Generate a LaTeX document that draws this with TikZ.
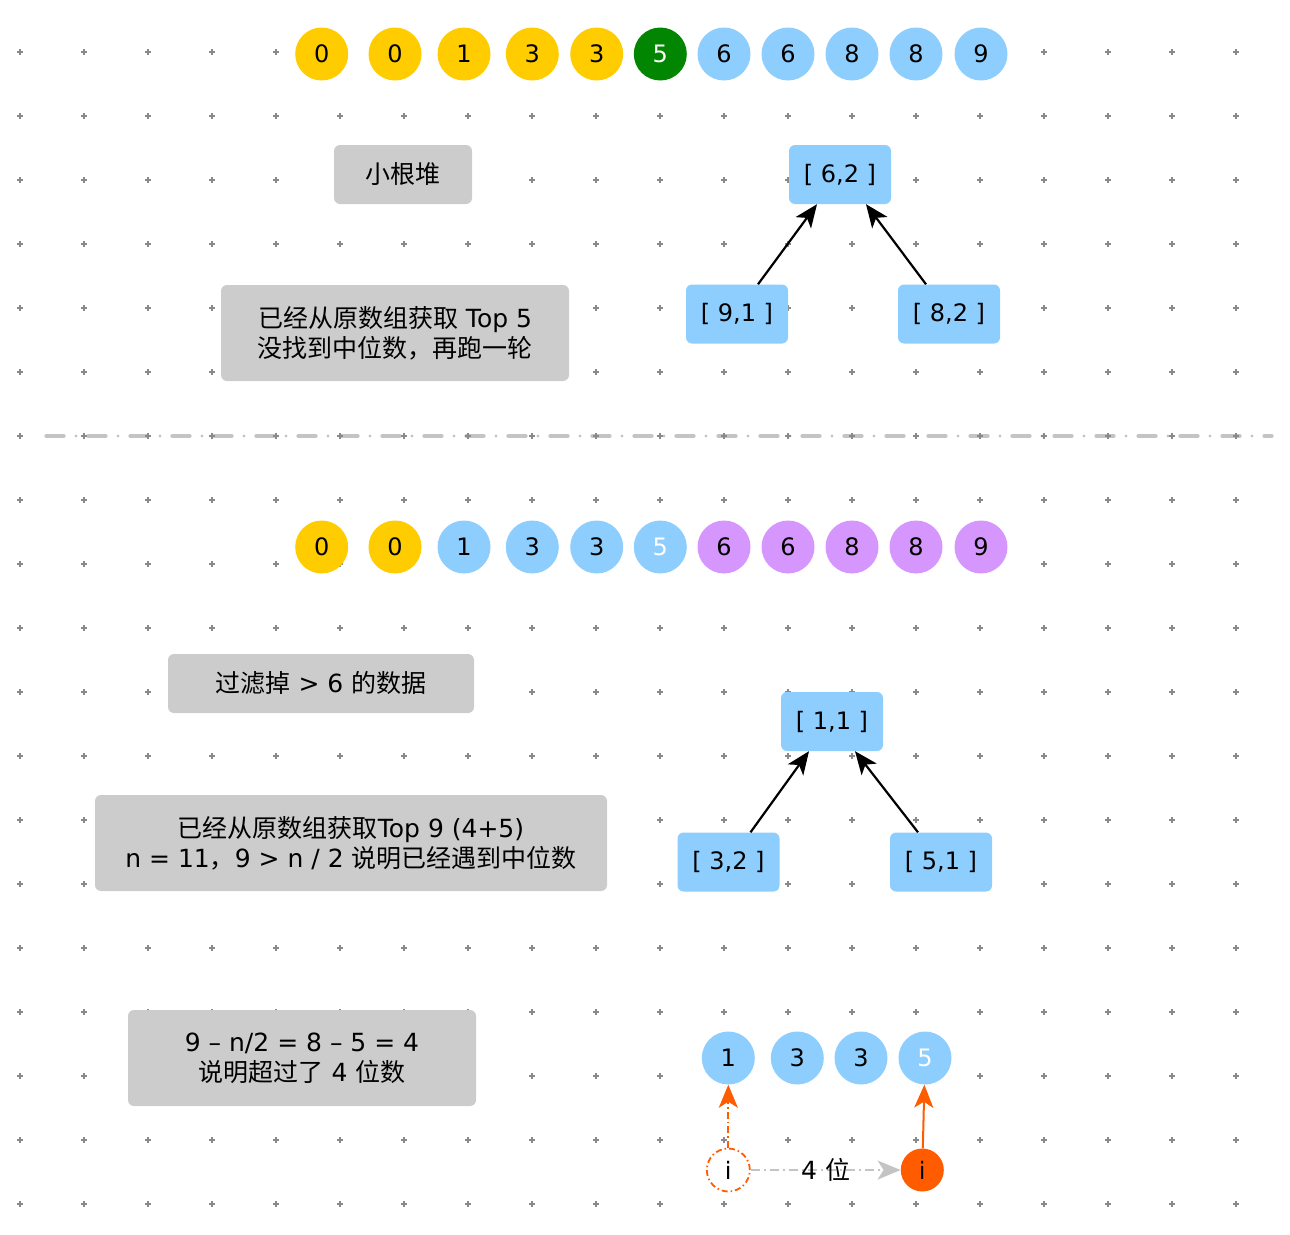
\documentclass[tikz,border=0pt]{standalone}
\usepackage{fontspec}
\setmainfont{DejaVu Sans}
\newfontfamily\cjk{Noto Sans CJK SC}
\usetikzlibrary{arrows.meta}
\newcommand{\zh}[1]{{\cjk #1}}
\definecolor{gold}{HTML}{FFCC00}
\definecolor{leaf}{HTML}{028602}
\definecolor{sky}{HTML}{8ECEFE}
\definecolor{lilac}{HTML}{D597FE}
\definecolor{boxgray}{HTML}{CCCCCC}
\definecolor{fire}{HTML}{FF5C00}
\definecolor{dotgray}{HTML}{8A8A8A}
\definecolor{linegray}{HTML}{C4C4C4}
\tikzstyle{Arrow} = [
%heap arrows
line width=2.2pt,
-{Stealth[length=23pt, width=19pt, inset=6pt]}
]

\begin{document}
\begin{tikzpicture}[x=1pt, y=-1pt,
			num/.style = {circle, inner sep=0pt, minimum size=53pt, font=\fontsize{24pt}{28pt}\selectfont},
			heap/.style = {rectangle, rounded corners=6pt, fill=sky, minimum width=102pt, minimum height=59pt, font=\fontsize{24pt}{28pt}\selectfont},
			note/.style = {rectangle, rounded corners=6pt, fill=boxgray, align=center, font=\fontsize{25pt}{30pt}\selectfont},
			ptr/.style = {circle, inner sep=0pt, minimum size=43pt, font=\fontsize{24pt}{28pt}\selectfont},
		]
		\useasboundingbox (0,0) rectangle (1290,1234);

		% separator and dot grid
		\draw[linegray, line width=3.2pt, line cap=round, dash pattern=on 18pt off 12pt on 0pt off 12pt] (46,436) -- (1272,436);
		\foreach \gx in {20,84,...,1236}
			\foreach \gy in {52,116,...,1204}
				\draw[dotgray, line width=1.4pt] (\gx-2.9,\gy) -- (\gx+2.9,\gy) (\gx,\gy-2.9) -- (\gx,\gy+2.9);

		% first round
		\foreach \v/\c/\t/\x [count=\k] in {0/gold/black/321.7, 0/gold/black/395, 1/gold/black/464, 3/gold/black/532.3, 3/gold/black/596.7, 5/leaf/white/660.3, 6/sky/black/724, 6/sky/black/788, 8/sky/black/852, 8/sky/black/916, 9/sky/black/981}
			\node[num, fill=\c, text=\t] (a\k) at (\x,54) {\v};

		\node[note, minimum width=138pt, minimum height=59pt] (small) at (403,174.5) {\zh{小根堆}};
		\node[note, minimum width=348pt, minimum height=96pt] (top5) at (395,333) {\zh{已经从原数组获取} Top 5\\\zh{没找到中位数，再跑一轮}};

		\node[heap] (h62) at (840,174.5) {[ 6,2 ]};
		\node[heap] (h91) at (737,314) {[ 9,1 ]};
		\node[heap] (h82) at (949,314) {[ 8,2 ]};
		\draw[Arrow]([xshift=21pt]h91.north)--([xshift=-23pt]h62.south);
		\draw[Arrow]([xshift=-23pt]h82.north)--([xshift=26pt]h62.south);

		% second round
		\foreach \v/\c/\t/\x [count=\k] in {0/gold/black/321.7, 0/gold/black/395, 1/sky/black/464, 3/sky/black/532.3, 3/sky/black/596.7, 5/sky/white/660.3, 6/lilac/black/724, 6/lilac/black/788, 8/lilac/black/852, 8/lilac/black/916, 9/lilac/black/981}
			\node[num, fill=\c, text=\t] (b\k) at (\x,547) {\v};

		\node[note, minimum width=306pt, minimum height=59pt] (filter) at (321,683.5) {\zh{过滤掉} > 6 \zh{的数据}};
		\node[note, minimum width=512pt, minimum height=96pt] (top9) at (351,843) {\zh{已经从原数组获取}Top 9 (4+5)\\n = 11\zh{，}9 > n / 2 \zh{说明已经遇到中位数}};
		\node[note, minimum width=348pt, minimum height=96pt] (over) at (302,1058) {9 – n/2 = 8 – 5 = 4\\\zh{说明超过了} 4 \zh{位数}};

		\node[heap] (h11) at (832,721.5) {[ 1,1 ]};
		\node[heap] (h32) at (728.5,862) {[ 3,2 ]};
		\node[heap] (h51) at (941,862) {[ 5,1 ]};
		\draw[Arrow]([xshift=22pt]h32.north)--([xshift=-23pt]h11.south);
		\draw[Arrow]([xshift=-23pt]h51.north)--([xshift=23pt]h11.south);

		% pointer move
		\foreach \v/\t/\x [count=\k] in {1/black/728.3, 3/black/797.3, 3/black/861, 5/white/925}
			\node[num, fill=sky, text=\t] (c\k) at (\x,1058) {\v};

		\node[ptr, draw=fire, fill=white, line width=1.8pt, dash pattern=on 6pt off 3pt on 1.5pt off 3pt] (i0) at (728.3,1170) {i};
		\node[ptr, fill=fire] (i1) at (922.3,1170) {i};

		\draw[Arrow, fire, line width=2pt, dash pattern=on 7pt off 3pt on 1.5pt off 3pt](i0)--(c1);
		\draw[Arrow, fire, line width=2pt](i1)--(c4);
		\draw[Arrow, linegray, line width=2pt, dash pattern=on 9pt off 4pt on 2pt off 4pt](i0)--node[text=black, font=\fontsize{25pt}{30pt}\selectfont] {4 \zh{位}}(i1);
	\end{tikzpicture}
\end{document}
